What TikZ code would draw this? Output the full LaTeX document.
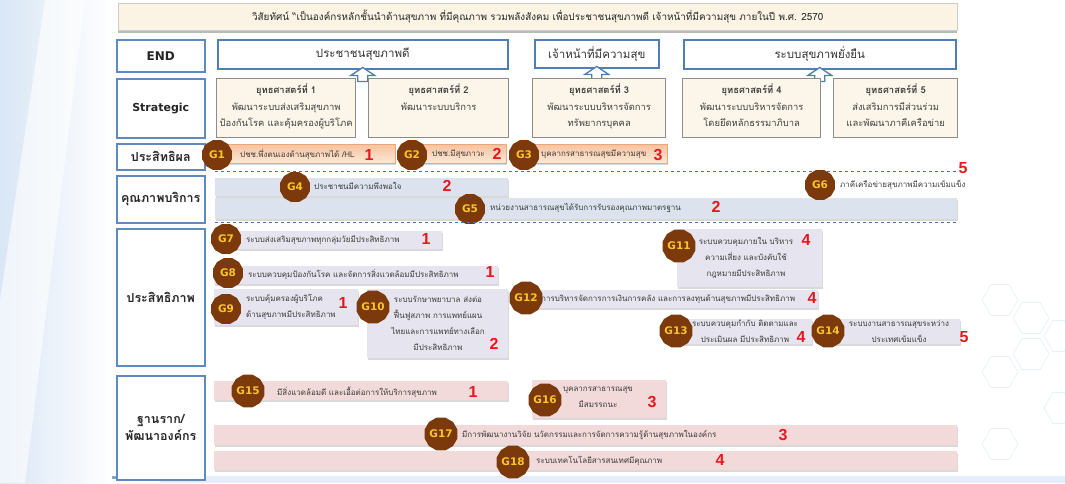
\documentclass[tikz,border=0pt]{standalone}
\usepackage{fontspec}
\setmainfont{DejaVu Sans}
\newfontfamily\thai[Script=Thai]{Loma}
\newfontfamily\arialb{Liberation Sans}[BoldFont={Liberation Sans Bold}]
\usetikzlibrary{positioning, shadows, shapes.geometric}

\definecolor{endblue}{HTML}{4F7DB5}
\definecolor{labblue}{HTML}{5D8AC0}
\definecolor{cream}{HTML}{FCF6EA}
\definecolor{titlefill}{HTML}{FBF3E4}
\definecolor{badgebrown}{HTML}{7C3A0C}
\definecolor{badgeyellow}{HTML}{F7C52B}
\definecolor{numred}{HTML}{E3191E}
\definecolor{efftop}{HTML}{F7C3A0}
\definecolor{effbot}{HTML}{FDE8D6}
\definecolor{effedge}{HTML}{E9A77C}
\definecolor{qualfill}{HTML}{DCE3EF}
\definecolor{efcfill}{HTML}{E6E4EE}
\definecolor{basefill}{HTML}{F2DADA}
\definecolor{dashblue}{HTML}{4A72AC}
\definecolor{txtgray}{HTML}{3A3A3A}
\definecolor{bgblue}{HTML}{D9E6F5}

\tikzset{
  rowlab/.style={draw=labblue, line width=1.5pt, fill=white, minimum width=88pt, anchor=north west, align=center, text=black!85, font=\thai\bfseries\fontsize{12.5}{17}\selectfont},
  endbox/.style={draw=endblue, line width=1.5pt, fill=white, anchor=north west, text=black!80, font=\thai\fontsize{11.5}{13}\selectfont},
  stratbox/.style={draw=black!45, line width=1.3pt, fill=cream, anchor=north west},
  strattext/.style={align=center, text=black!75, inner sep=0pt, font=\thai\fontsize{9.4}{16.5}\selectfont},
  uparr/.style={draw=endblue, fill=white, line width=1.3pt},
  bar/.style={anchor=north west, inner sep=0pt, drop shadow={shadow xshift=1pt, shadow yshift=-1.5pt, opacity=.3}},
  effbar/.style={bar, top color=efftop, bottom color=effbot, draw=effedge, line width=.6pt},
  qualbar/.style={bar, fill=qualfill},
  efcbar/.style={bar, fill=efcfill},
  basebar/.style={bar, fill=basefill},
  badge/.style={regular polygon, regular polygon sides=12, fill=badgebrown, text=badgeyellow, minimum size=31pt, inner sep=0pt, font=\bfseries\fontsize{10.5}{11}\selectfont},
  bartext/.style={text=txtgray, inner sep=0pt, align=center, font=\thai\fontsize{8}{16}\selectfont},
  num/.style={text=numred, inner sep=0pt, font=\arialb\bfseries\fontsize{16}{16}\selectfont},
  sep/.style={draw=dashblue, dashed, line width=.9pt},
  hexa/.style={regular polygon, regular polygon sides=6, draw=bgblue!60, line width=.8pt, minimum size=36pt, inner sep=0pt},
}

\begin{document}
\begin{tikzpicture}[x=1pt,y=-1pt]
\useasboundingbox (0,0) rectangle (1065,483);
% background
\shade[left color=bgblue, right color=white] (0,0) rectangle (112,483);
\fill[white, opacity=.6] (45,0) -- (85,0) -- (25,483) -- (0,483) -- (0,300) -- cycle;
\fill[bgblue!70] (160,476) rectangle (1065,483);
\fill[endblue!70] (112,476) rectangle (160,479);
\foreach \hx/\hy [count=\i] in {1000/300, 1031/318, 1031/354, 1000/372, 1062/336, 1062/408, 1000/444}
  \node[hexa] (h\i) at (\hx,\hy) {};

% vision
\node[fill=titlefill, draw=black!20, minimum width=839pt, minimum height=27pt, anchor=north west,
      drop shadow={shadow xshift=0pt, shadow yshift=-2.5pt, opacity=.55},
      font=\thai\fontsize{9.9}{11}\selectfont, text=black!85] (vis) at (118,3)
  {วิสัยทัศน์ “เป็นองค์กรหลักชั้นนำด้านสุขภาพ ที่มีคุณภาพ รวมพลังสังคม เพื่อประชาชนสุขภาพดี เจ้าหน้าที่มีความสุข ภายในปี พ.ศ. 2570};

% row labels
\node[rowlab, minimum height=32pt, font=\bfseries\fontsize{12}{12}\selectfont] (lend) at (116,39) {END};
\node[rowlab, minimum height=59pt, font=\bfseries\fontsize{11}{12}\selectfont] (lstr) at (116,78) {Strategic};
\node[rowlab, minimum height=26pt] (leff) at (116,143) {ประสิทธิผล};
\node[rowlab, minimum height=47pt] (lqua) at (116,175) {คุณภาพบริการ};
\node[rowlab, minimum height=137pt] (lefc) at (116,228) {ประสิทธิภาพ};
\node[rowlab, minimum height=104pt] (lbas) at (116,375) {ฐานราก/\\พัฒนาองค์กร};

% end boxes
\node[endbox, minimum width=290pt, minimum height=29pt] (e1) at (217,39) {ประชาชนสุขภาพดี};
\node[endbox, minimum width=124pt, minimum height=28pt] (e2) at (534,39) {เจ้าหน้าที่มีความสุข};
\node[endbox, minimum width=272pt, minimum height=29pt] (e3) at (683,39) {ระบบสุขภาพยั่งยืน};

\draw[uparr, shift={(e1.south)}] (0,-2) -- (12,6) -- (5,6) -- (5,12) -- (-5,12) -- (-5,6) -- (-12,6) -- cycle;
\draw[uparr, shift={(e2.south)}] (0,-2) -- (12,6) -- (5,6) -- (5,12) -- (-5,12) -- (-5,6) -- (-12,6) -- cycle;
\draw[uparr, shift={(e3.south)}] (0,-2) -- (12,6) -- (5,6) -- (5,12) -- (-5,12) -- (-5,6) -- (-12,6) -- cycle;

% strategies
\node[stratbox, minimum width=139pt, minimum height=59pt] (s1) at (216,78) {};
\node[stratbox, minimum width=140pt, minimum height=59pt] (s2) at (368,78) {};
\node[stratbox, minimum width=133pt, minimum height=59pt] (s3) at (532,78) {};
\node[stratbox, minimum width=138pt, minimum height=59pt] (s4) at (682,78) {};
\node[stratbox, minimum width=124pt, minimum height=59pt] (s5) at (833,78) {};
\node[strattext, below=6pt of s1.north] (st1) {{\bfseries ยุทธศาสตร์ที่ 1}\\พัฒนาระบบส่งเสริมสุขภาพ\\ป้องกันโรค และคุ้มครองผู้บริโภค};
\node[strattext, below=6pt of s2.north] (st2) {{\bfseries ยุทธศาสตร์ที่ 2}\\พัฒนาระบบบริการ};
\node[strattext, below=6pt of s3.north] (st3) {{\bfseries ยุทธศาสตร์ที่ 3}\\พัฒนาระบบบริหารจัดการ\\ทรัพยากรบุคคล};
\node[strattext, below=6pt of s4.north] (st4) {{\bfseries ยุทธศาสตร์ที่ 4}\\พัฒนาระบบบริหารจัดการ\\โดยยึดหลักธรรมาภิบาล};
\node[strattext, below=6pt of s5.north] (st5) {{\bfseries ยุทธศาสตร์ที่ 5}\\ส่งเสริมการมีส่วนร่วม\\และพัฒนาภาคีเครือข่าย};

% effectiveness
\node[effbar, minimum width=175pt, minimum height=19pt] (b1) at (220,144) {};
\node[effbar, minimum width=94pt, minimum height=19pt] (b2) at (412,144) {};
\node[effbar, minimum width=140pt, minimum height=19pt] (b3) at (527,144) {};
\node[badge] (g1) at (217,155) {G1};
\node[badge] (g2) at (412,155) {G2};
\node[badge] (g3) at (524,155) {G3};
\node[bartext, anchor=west] (t1) at (240,154) {ปชช.พึ่งตนเองด้านสุขภาพได้ /HL};
\node[bartext, anchor=west] (t2) at (432,154) {ปชช.มีสุขภาวะ};
\node[bartext, anchor=west] (t3) at (541,154) {บุคลากรสาธารณสุขมีความสุข};
\node[num] (n1) at (369,155) {1};
\node[num] (n2) at (497,154) {2};
\node[num] (n3) at (658,155) {3};
\draw[sep] (215,171) -- (957,171);

% service quality
\node[qualbar, minimum width=293pt, minimum height=18pt] (b4) at (215,178) {};
\node[qualbar, minimum width=742pt, minimum height=21pt] (b5) at (215,198) {};
\node[badge] (g4) at (295,187) {G4};
\node[badge] (g5) at (470,209) {G5};
\node[badge] (g6) at (820,185) {G6};
\node[bartext, anchor=west] (t4) at (314,186) {ประชาชนมีความพึงพอใจ};
\node[bartext, anchor=west] (t5) at (490,208) {หน่วยงานสาธารณสุขได้รับการรับรองคุณภาพมาตรฐาน};
\node[bartext, anchor=west] (t6) at (840,185) {ภาคีเครือข่ายสุขภาพมีความเข้มแข็ง};
\node[num] (n4) at (447,186) {2};
\node[num] (n5) at (716,207) {2};
\node[num] (n6) at (963,168) {5};
\draw[sep] (215,222) -- (957,222);

% efficiency
\node[efcbar, minimum width=228pt, minimum height=18pt] (b7) at (214,231) {};
\node[efcbar, minimum width=284pt, minimum height=18pt] (b8) at (214,266) {};
\node[efcbar, minimum width=144pt, minimum height=36pt] (b9) at (214,289) {};
\node[efcbar, minimum width=141pt, minimum height=69pt] (b10) at (367,289) {};
\node[efcbar, minimum width=145pt, minimum height=58pt] (b11) at (677,229) {};
\node[efcbar, minimum width=293pt, minimum height=18pt] (b12) at (525,290) {};
\node[efcbar, minimum width=142pt, minimum height=25pt] (b13) at (670,319) {};
\node[efcbar, minimum width=133pt, minimum height=25pt] (b14) at (827,319) {};
\node[badge] (g7) at (226,239) {G7};
\node[badge] (g8) at (228,273) {G8};
\node[badge] (g9) at (226,309) {G9};
\node[badge] (g10) at (373,307) {G10};
\node[badge] (g11) at (679,246) {G11};
\node[badge] (g12) at (526,298) {G12};
\node[badge] (g13) at (676,331) {G13};
\node[badge] (g14) at (828,331) {G14};
\node[bartext, anchor=west] (t7) at (246,240) {ระบบส่งเสริมสุขภาพทุกกลุ่มวัยมีประสิทธิภาพ};
\node[bartext, anchor=west] (t8) at (248,274) {ระบบควบคุมป้องกันโรค และจัดการสิ่งแวดล้อมมีประสิทธิภาพ};
\node[bartext, anchor=west, align=left] (t9) at (246,307) {ระบบคุ้มครองผู้บริโภค\\ด้านสุขภาพมีประสิทธิภาพ};
\node[bartext] (t10) at (438,323) {ระบบรักษาพยาบาล ส่งต่อ\\ฟื้นฟูสภาพ การแพทย์แผน\\ไทยและการแพทย์ทางเลือก\\มีประสิทธิภาพ};
\node[bartext] (t11) at (746,258) {ระบบควบคุมภายใน บริหาร\\ความเสี่ยง และบังคับใช้\\กฎหมายมีประสิทธิภาพ};
\node[bartext, anchor=west] (t12) at (541,299) {การบริหารจัดการการเงินการคลัง และการลงทุนด้านสุขภาพมีประสิทธิภาพ};
\node[bartext] (t13) at (745,331) {ระบบควบคุมกำกับ ติดตามและ\\ประเมินผล มีประสิทธิภาพ};
\node[bartext] (t14) at (899,331) {ระบบงานสาธารณสุขระหว่าง\\ประเทศเข้มแข็ง};
\node[num] (n7) at (426,239) {1};
\node[num] (n8) at (490,272) {1};
\node[num] (n9) at (343,303) {1};
\node[num] (n10) at (494,344) {2};
\node[num] (n11) at (806,240) {4};
\node[num] (n12) at (812,298) {4};
\node[num] (n13) at (801,337) {4};
\node[num] (n14) at (964,337) {5};

% foundation
\node[basebar, minimum width=294pt, minimum height=19pt] (b15) at (214,381) {};
\node[basebar, minimum width=134pt, minimum height=38pt] (b16) at (532,380) {};
\node[basebar, minimum width=743pt, minimum height=20pt] (b17) at (214,425) {};
\node[basebar, minimum width=743pt, minimum height=19pt] (b18) at (214,451) {};
\node[badge] (g15) at (248,391) {G15};
\node[badge] (g16) at (545,400) {G16};
\node[badge] (g17) at (441,434) {G17};
\node[badge] (g18) at (513,462) {G18};
\node[bartext, anchor=west] (t15) at (277,392) {มีสิ่งแวดล้อมดี และเอื้อต่อการให้บริการสุขภาพ};
\node[bartext] (t16) at (598,397) {บุคลากรสาธารณสุข\\มีสมรรถนะ};
\node[bartext, anchor=west] (t17) at (462,435) {มีการพัฒนางานวิจัย นวัตกรรมและการจัดการความรู้ด้านสุขภาพในองค์กร};
\node[bartext, anchor=west] (t18) at (536,461) {ระบบเทคโนโลยีสารสนเทศมีคุณภาพ};
\node[num] (n15) at (473,392) {1};
\node[num] (n16) at (652,402) {3};
\node[num] (n17) at (783,435) {3};
\node[num] (n18) at (720,460) {4};
\end{tikzpicture}
\end{document}
